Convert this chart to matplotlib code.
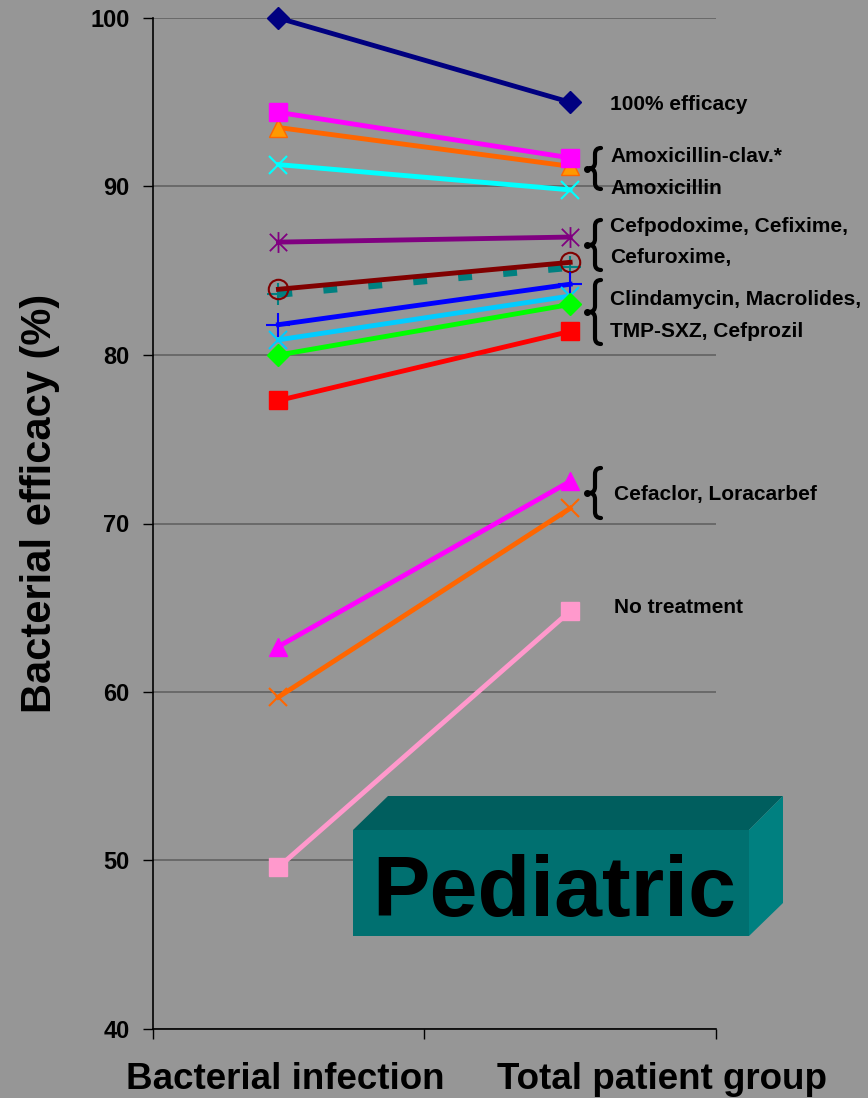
import matplotlib.pyplot as plt
from matplotlib.path import Path
from matplotlib.patches import Polygon, PathPatch

plt.rcParams['font.family'] = ['Liberation Sans', 'DejaVu Sans']

bg = "#969696"

groups = ["Bacterial infection", "Total patient group"]

# efficacy (%) per group, one list per regimen line
full_efficacy = [100.0, 95.0]
amox_clav_sq = [94.4, 91.7]
amox_clav_tri = [93.5, 91.2]
amoxicillin = [91.3, 89.8]
cefpodoxime = [86.7, 87.0]
cefixime = [83.9, 85.5]
cefuroxime = [83.6, 85.2]
clindamycin = [81.8, 84.2]
macrolides = [80.9, 83.5]
tmp_sxz = [80.0, 83.0]
cefprozil = [77.3, 81.4]
cefaclor = [62.7, 72.5]
loracarbef = [59.7, 70.9]
no_treatment = [49.6, 64.8]

yticks = [40, 50, 60, 70, 80, 90, 100]

right_labels = ["100% efficacy", "Amoxicillin-clav.*", "Amoxicillin",
                "Cefpodoxime, Cefixime,", "Cefuroxime,",
                "Clindamycin, Macrolides,", "TMP-SXZ, Cefprozil",
                "Cefaclor, Loracarbef", "No treatment"]

# asterisk marker: x plus a vertical bar
star = Path([(-1, -1), (1, 1), (-1, 1), (1, -1), (0, -1.2), (0, 1.2)],
            [Path.MOVETO, Path.LINETO, Path.MOVETO, Path.LINETO, Path.MOVETO, Path.LINETO])

styles = [
    (full_efficacy, dict(color="#000080", marker="D", ms=11)),
    (amox_clav_tri, dict(color="#FF6600", marker="^", ms=13, mfc="#FF9900", mec="#FF6600")),
    (amox_clav_sq, dict(color="#FF00FF", marker="s", ms=13)),
    (amoxicillin, dict(color="#00FFFF", marker="x", ms=13, mew=1.5)),
    (cefpodoxime, dict(color="#800080", marker=star, ms=15, mew=1.3)),
    (cefuroxime, dict(color="#008080", marker="+", ms=16, mew=1.5, lw=5, dashes=(2.0, 4.5))),
    (cefixime, dict(color="#800000", marker="o", ms=14, mfc="none", mew=1.5)),
    (clindamycin, dict(color="#0000FF", marker="+", ms=17, mew=1.5)),
    (macrolides, dict(color="#00CCFF", marker="x", ms=13, mew=1.5)),
    (tmp_sxz, dict(color="#00FF00", marker="D", ms=11)),
    (cefprozil, dict(color="#FF0000", marker="s", ms=13)),
    (cefaclor, dict(color="#FF00FF", marker="^", ms=13)),
    (loracarbef, dict(color="#FF6600", marker="x", ms=13, mew=1.5)),
    (no_treatment, dict(color="#FF99CC", marker="s", ms=13)),
]

fig = plt.figure(figsize=(8.68, 10.98), dpi=100, facecolor=bg)
ax = fig.add_axes([153 / 868, 1 - 1029 / 1098, 563 / 868, 1011 / 1098])
ax.set_facecolor(bg)

xpos = [0, 1]
for vals, kw in styles:
    kw = dict(kw)
    kw.setdefault("lw", 3.5)
    ax.plot(xpos, vals, clip_on=False, **kw)

left = -0.43
ax.set_xlim(left, 1.5)
ax.set_ylim(40, 100)
ax.set_yticks(yticks)
ax.set_yticklabels([str(t) for t in yticks], fontsize=17, fontweight="bold")
ax.set_xticks([left, 0.5, 1.5])
ax.set_xticklabels([])
ax.tick_params(axis="both", direction="out", length=7, width=1, colors="black", pad=10)
ax.yaxis.grid(True, color="#666666", lw=1.3)
ax.set_axisbelow(True)
for s in ["top", "right"]:
    ax.spines[s].set_visible(False)
for s in ["left", "bottom"]:
    ax.spines[s].set_linewidth(1.2)
ax.set_ylabel("Bacterial efficacy (%)", fontsize=30, fontweight="bold")
ax.yaxis.set_label_coords(-0.165, 0.52)

# overlay in pixel units for labels, braces and the title block
ov = fig.add_axes([0, 0, 1, 1], zorder=5)
ov.set_xlim(0, 868)
ov.set_ylim(1098, 0)
ov.axis("off")
ov.patch.set_alpha(0)

ov.text(285, 1089, groups[0], ha="center", va="baseline", fontsize=26.5,
        fontweight="bold")
ov.text(662, 1089, groups[1], ha="center", va="baseline", fontsize=26.5,
        fontweight="bold")

label_pos = [(610, 110), (610, 162), (610, 194), (610, 232), (610, 263),
             (610, 305), (610, 337), (614, 500), (614, 613)]
for (x, y), t in zip(label_pos, right_labels):
    ov.text(x, y, t, ha="left", va="baseline", fontsize=15, fontweight="bold")


def brace(x, y0, y1, w=6):
    ym = (y0 + y1) / 2
    verts = [(x + w, y0), (x, y0), (x, y0 + w),
             (x, ym - w), (x, ym), (x - w, ym),
             (x, ym), (x, ym + w),
             (x, y1 - w), (x, y1), (x + w, y1)]
    codes = [Path.MOVETO, Path.CURVE3, Path.CURVE3,
             Path.LINETO, Path.CURVE3, Path.CURVE3,
             Path.CURVE3, Path.CURVE3,
             Path.LINETO, Path.CURVE3, Path.CURVE3]
    ov.add_patch(PathPatch(Path(verts, codes), fill=False, lw=3, ec="black",
                           capstyle="round", joinstyle="round"))
    ov.plot([x - w - 2], [ym], marker="o", ms=4, mfc="black", mec="black", mew=1)


for y0, y1 in [(148, 189), (220, 270), (280, 344), (468, 518)]:
    brace(595, y0, y1)

# teal 3-D block
ov.add_patch(Polygon([(353, 830), (388, 796), (783, 796), (749, 830)],
                     closed=True, fc="#005E5E", ec="none"))
ov.add_patch(Polygon([(749, 830), (783, 796), (783, 903), (749, 936)],
                     closed=True, fc="#008080", ec="none"))
ov.add_patch(Polygon([(353, 830), (749, 830), (749, 936), (353, 936)],
                     closed=True, fc="#007070", ec="none"))
ov.text(554, 916, "Pediatric", ha="center", va="baseline", fontsize=62,
        fontweight="bold", color="black")

fig.savefig("out.png", dpi=100, facecolor=bg)
